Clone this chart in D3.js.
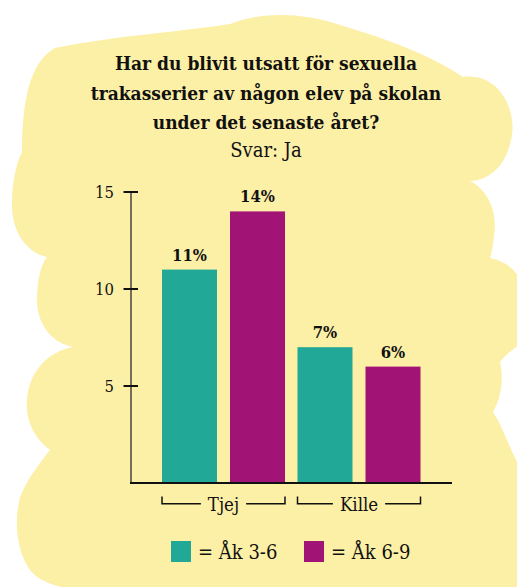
<!DOCTYPE html>
<html><head><meta charset="utf-8">
<script src="https://cdn.jsdelivr.net/npm/d3@7"></script>
<style>
body{margin:0;background:#fff}
text{font-family:"DejaVu Serif",serif;font-stretch:condensed;fill:#111}
</style>
</head><body>
<svg id="c" width="517" height="587"></svg>
<script>
// ---- data ----
const titleLines = ["Har du blivit utsatt för sexuella", "trakasserier av någon elev på skolan", "under det senaste året?"];
const subtitle = "Svar: Ja";
const groups = ["Tjej", "Kille"];
const seriesNames = ["Åk 3-6", "Åk 6-9"];
const values36 = [11, 7];
const values69 = [14, 6];
const yTicks = [5, 10, 15];
const colors = ["#21a896", "#a11375"];

const svg = d3.select("#c");

// background blob (decorative)
svg.append("path")
  .attr("fill", "#fcefa6")
  .attr("d", "M22 152 C22 100 30 62 55 48 C120 35 180 32 230 24 C262 12 300 12 340 25 C390 40 430 55 463 77 " +
    "C500 72 518 112 511 140 C505 168 488 180 470 181 " +
    "C488 190 498 212 494 236 C493 246 492 252 490 258 " +
    "C510 262 522 275 525 295 L525 340 C515 348 506 354 500 362 " +
    "C504 380 501 398 493 412 C502 425 508 445 520 468 L525 480 L525 595 L117 595 " +
    "C80 592 42 587 30 570 C16 550 14 520 20 498 C26 480 40 463 50 450 " +
    "C34 438 25 420 27 400 C29 372 47 352 73 347 " +
    "C52 343 38 325 37 302 C37 282 40 266 47 257 " +
    "C26 252 12 232 12 205 C12 182 16 164 22 152 Z");

// title
svg.append("g").selectAll("text").data(titleLines).join("text")
  .attr("x", 266).attr("y", (d, i) => 70 + i * 29.5)
  .attr("text-anchor", "middle").attr("font-weight", "bold").attr("font-size", 19)
  .text(d => d);
svg.append("text").attr("x", 266).attr("y", 157).attr("text-anchor", "middle")
  .attr("font-size", 20).text(subtitle);

// scales
const y = d3.scaleLinear().domain([0, 15]).range([483, 192]);
const x0 = d3.scaleBand().domain(groups).range([155.75, 426.75]);
const x1 = d3.scaleBand().domain(seriesNames).range([6.25, 129.25]).paddingInner(13 / 68);

const data = groups.map((g, i) => ({ group: g, vals: [
  { s: seriesNames[0], v: values36[i] }, { s: seriesNames[1], v: values69[i] }] }));

// y axis
const yAxis = svg.append("g").attr("transform", "translate(131,0)")
  .call(d3.axisLeft(y).tickValues(yTicks).tickSize(0).tickPadding(17));
yAxis.select(".domain").remove();
yAxis.selectAll("text").attr("font-size", 16.5).attr("font-family", null).attr("fill", "#111");
svg.append("line").attr("x1", 131).attr("x2", 131).attr("y1", y(15)).attr("y2", y(0))
  .attr("stroke", "#444").attr("stroke-width", 1.5);
svg.append("g").selectAll("line").data(yTicks).join("line")
  .attr("x1", 123.5).attr("x2", 138).attr("y1", d => y(d)).attr("y2", d => y(d))
  .attr("stroke", "#111").attr("stroke-width", 2);

// bars
const gg = svg.append("g").selectAll("g").data(data).join("g")
  .attr("transform", d => `translate(${x0(d.group)},0)`);
gg.selectAll("rect").data(d => d.vals).join("rect")
  .attr("x", d => x1(d.s)).attr("width", x1.bandwidth())
  .attr("y", d => y(d.v)).attr("height", d => y(0) - y(d.v))
  .attr("fill", (d, i) => colors[i]);
gg.selectAll("text.val").data(d => d.vals).join("text").attr("class", "val")
  .attr("x", d => x1(d.s) + x1.bandwidth() / 2).attr("y", d => y(d.v) - 9)
  .attr("text-anchor", "middle").attr("font-weight", "bold").attr("font-size", 16.5)
  .text(d => d.v + "%");

// baseline
svg.append("line").attr("x1", 130).attr("x2", 452).attr("y1", y(0)).attr("y2", y(0))
  .attr("stroke", "#111").attr("stroke-width", 2);

// group brackets
gg.each(function (d) {
  const g = d3.select(this);
  const left = x1(seriesNames[0]), right = x1(seriesNames[1]) + x1.bandwidth();
  const mid = (left + right) / 2;
  const t = g.append("text").attr("x", mid).attr("y", 510.5).attr("text-anchor", "middle")
    .attr("font-size", 18.5).text(d.group);
  const w = t.node().getComputedTextLength();
  const yb = 503.75;
  g.append("path").attr("fill", "none").attr("stroke", "#111").attr("stroke-width", 1.5)
    .attr("d", `M${left},496.5 V${yb} H${mid - w / 2 - 7} M${mid + w / 2 + 7},${yb} H${right} V496.5`);
});

// legend
const leg = svg.append("g").selectAll("g").data(seriesNames).join("g")
  .attr("transform", (d, i) => `translate(${[171, 304][i]},541)`);
leg.append("rect").attr("width", 20).attr("height", 21).attr("fill", (d, i) => colors[i]);
leg.append("text").attr("x", 27).attr("y", 18).attr("font-size", 20).text(d => "= " + d);
</script>
</body></html>
